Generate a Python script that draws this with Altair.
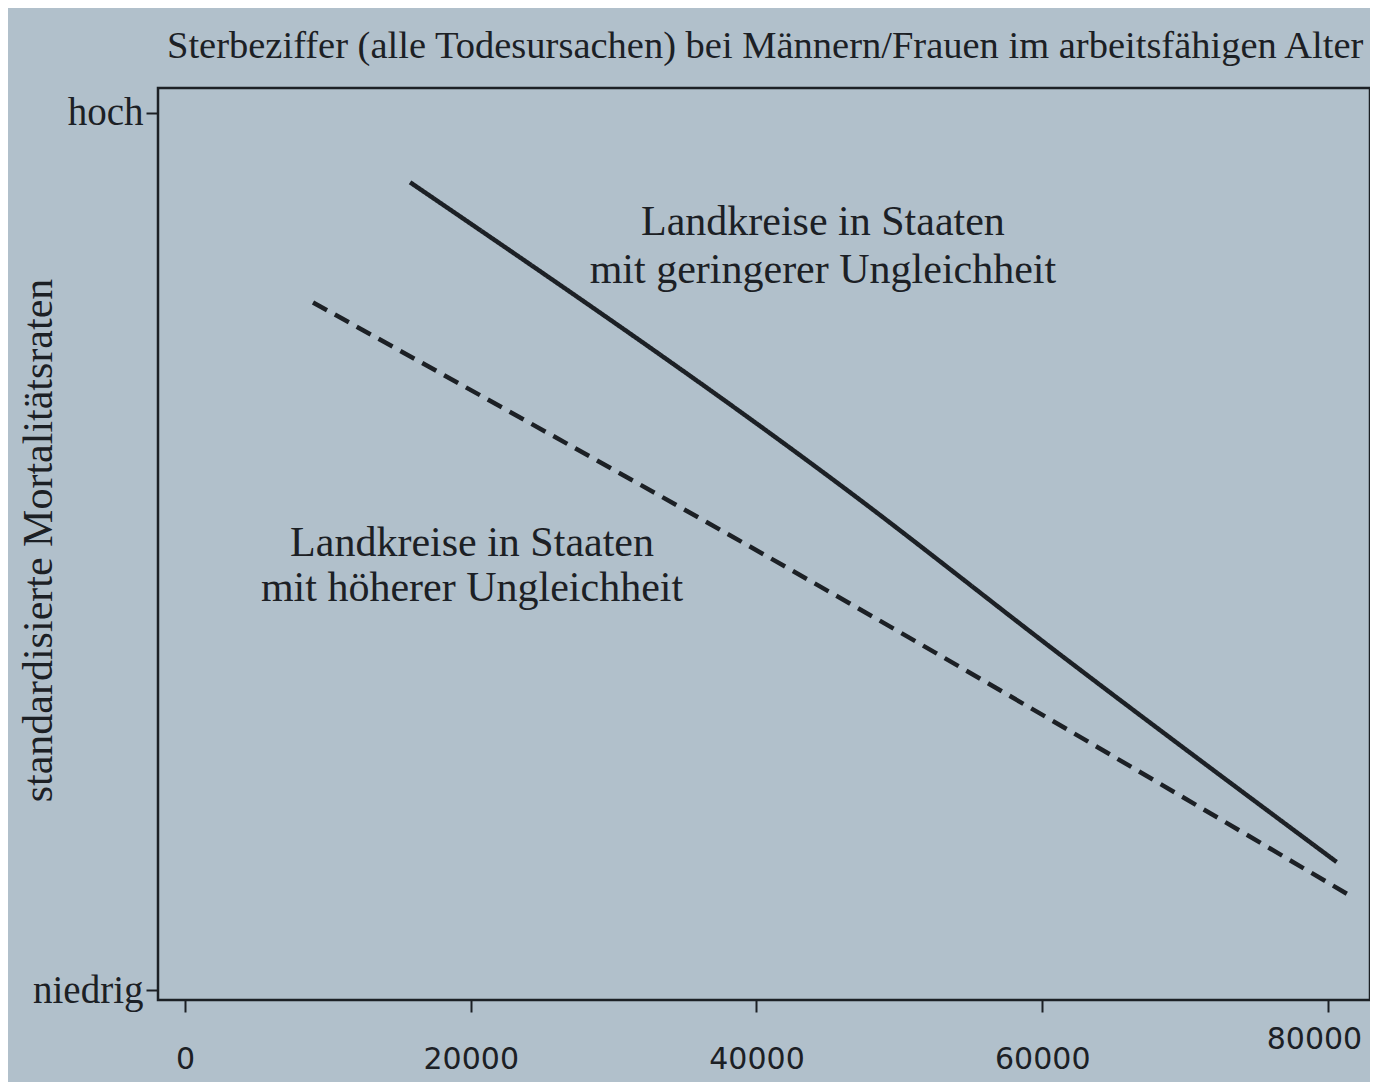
import altair as alt
import pandas as pd

# Series (x = income, y = standardised mortality on a 0 (niedrig) .. 100 (hoch) scale)
solid_x = [15750, 46500, 61450, 80600]
solid_y = [92.1, 56.8, 38.0, 14.6]
dashed_x = [8960, 46500, 81500]
dashed_y = [78.4, 44.1, 10.8]

x_ticks = [0, 20000, 40000, 60000, 80000]
y_ticks = [0, 100]
y_tick_labels = ["niedrig", "hoch"]

title_text = "Sterbeziffer (alle Todesursachen) bei Männern/Frauen im arbeitsfähigen Alter"
y_title = "standardisierte Mortalitätsraten"

ann_text = ["Landkreise in Staaten", "mit geringerer Ungleichheit",
            "Landkreise in Staaten", "mit höherer Ungleichheit"]
ann_x = [44650, 44650, 20090, 20090]
ann_y = [87.6, 82.1, 50.97, 45.84]

INK = "#1c2025"
FONT = "Liberation Serif"

lines = pd.DataFrame(
    {"x": solid_x + dashed_x,
     "y": solid_y + dashed_y,
     "s": ["geringer"] * len(solid_x) + ["hoeher"] * len(dashed_x)}
)
ann = pd.DataFrame({"t": ann_text, "x": ann_x, "y": ann_y})

xs = alt.Scale(domain=[-1890, 82940], nice=False, zero=False)
ys = alt.Scale(domain=[-1.14, 102.85], nice=False, zero=False)

label_expr = "datum.value == 100 ? '" + y_tick_labels[1] + "' : '" + y_tick_labels[0] + "'"

last_tick = "datum.value >= 80000"

line_layer = alt.Chart(lines).mark_line(color=INK, strokeWidth=4.5, interpolate="monotone").encode(
    x=alt.X("x:Q", scale=xs,
            axis=alt.Axis(values=x_ticks, format="d", title=None, grid=False, domain=False,
                          tickSize=12, tickWidth=2, tickColor=INK,
                          labelPadding={"condition": {"test": last_tick, "value": 12}, "value": 32},
                          labelOffset={"condition": {"test": last_tick, "value": -14}, "value": 0},
                          labelFontSize=30, labelFont="DejaVu Sans", labelColor=INK)),
    y=alt.Y("y:Q", scale=ys,
            axis=alt.Axis(values=y_ticks, labelExpr=label_expr, title=y_title, grid=False,
                          domain=False, tickSize=12, tickWidth=2, tickColor=INK,
                          labelPadding=3, labelFontSize=39, labelFont=FONT, labelColor=INK,
                          titleFont=FONT, titleFontSize=42, titleFontWeight="normal",
                          titleColor=INK, titleX=-120, titleY=452, titleBaseline="middle")),
    strokeDash=alt.StrokeDash("s:N",
                              scale=alt.Scale(domain=["geringer", "hoeher"],
                                              range=[[1, 0], [16, 9]]),
                              legend=None),
    detail="s:N",
)

text_layer = alt.Chart(ann).mark_text(
    font=FONT, fontSize=42, color=INK, align="center", baseline="middle"
).encode(x=alt.X("x:Q", scale=xs), y=alt.Y("y:Q", scale=ys), text="t:N")

chart = alt.layer(line_layer, text_layer).properties(
    width=1212,
    height=912,
    title=alt.TitleParams(title_text, font=FONT, fontSize=38.5, fontWeight="normal",
                          color=INK, anchor="start", frame="group", dx=9, offset=22),
    autosize=alt.AutoSizeParams(type="none"),
    padding={"left": 150, "top": 80, "right": 0, "bottom": 82},
    background="#b1c0cb",
).configure_view(stroke=INK, strokeWidth=2.5)

chart.save("out.html", embed_options={"renderer": "svg", "actions": False})
